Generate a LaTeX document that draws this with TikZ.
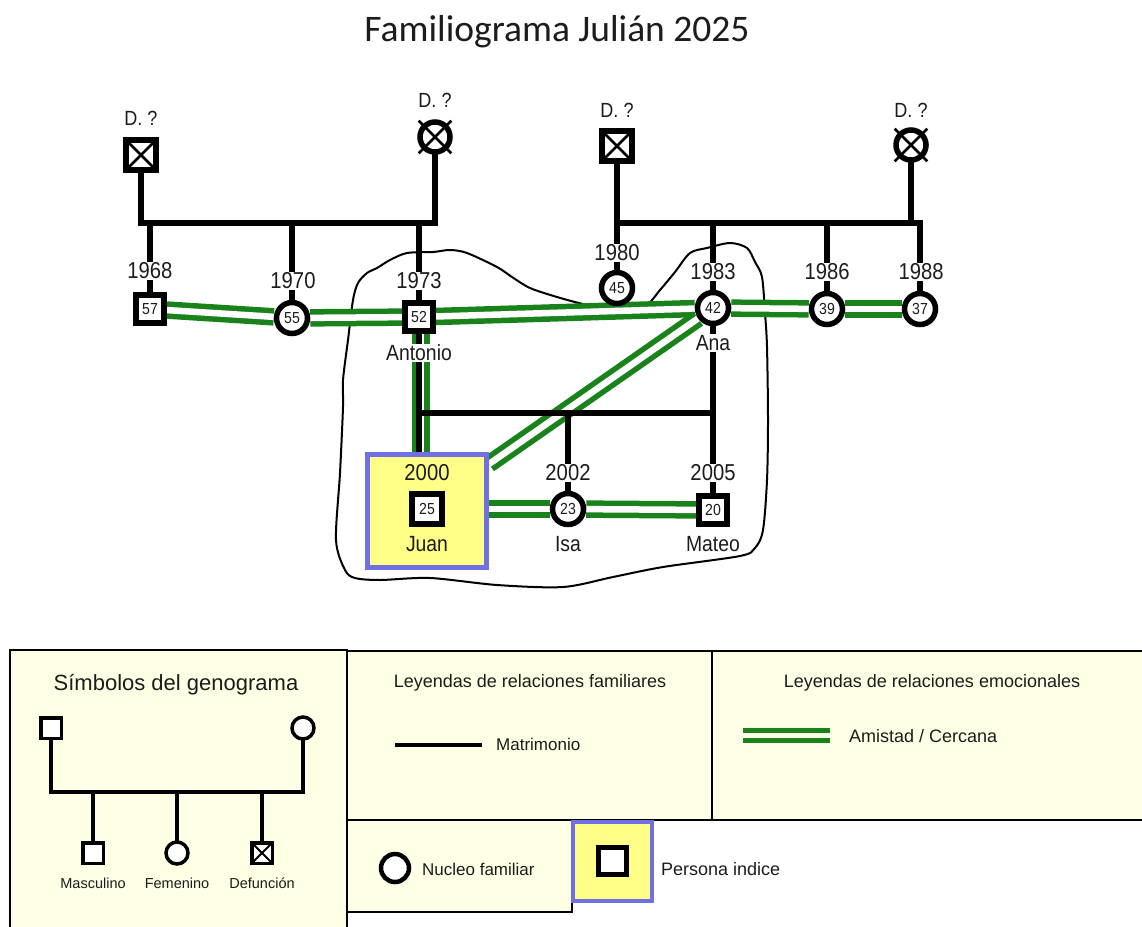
\documentclass[tikz,border=0pt]{standalone}
\usepackage{fontspec}
\setmainfont{Liberation Sans}
\newfontfamily\dfont[FakeStretch=0.88]{Liberation Sans}
\newfontfamily\titlefont{Carlito}
\usetikzlibrary{calc}
\definecolor{grn}{RGB}{26,130,26}
\definecolor{legy}{RGB}{255,255,229}
\definecolor{juany}{RGB}{255,255,136}
\definecolor{juanb}{RGB}{112,112,228}
\definecolor{txt}{RGB}{28,28,28}
\pgfdeclarelayer{bgl}
\pgfdeclarelayer{cloudl}
\pgfdeclarelayer{greenl}
\pgfdeclarelayer{blackl}
\pgfsetlayers{bgl,cloudl,greenl,blackl,main}
\begin{document}
\begin{tikzpicture}[x=1pt,y=-1pt,
  person/.style={draw,line width=5.5pt,fill=white,inner sep=0pt,text=txt,font=\dfont\fontsize{16}{16}\selectfont},
  male/.style={person,rectangle,minimum size=28pt},
  female/.style={person,circle,minimum size=31pt},
  xsq/.style={path picture={\draw[line width=#1] (path picture bounding box.north west) -- (path picture bounding box.south east) (path picture bounding box.north east) -- (path picture bounding box.south west);}},
  xsq/.default=2.5pt,
  dmale/.style={male,minimum size=30pt,xsq},
  dfemale/.style={female,minimum size=30pt},
  xline/.style={line width=2.5pt},
  gline/.style={line width=6pt,line cap=rect},
  amistad/.style={draw=grn,line width=5.5pt,double=white,double distance=6.5pt},
  yr/.style={fill=white,inner sep=1pt,text=txt,font=\dfont\fontsize{23}{23}\selectfont},
  nm/.style={fill=white,inner sep=1pt,text=txt,font=\dfont\fontsize{22}{22}\selectfont},
  dd/.style={inner sep=0pt,text=txt,font=\dfont\fontsize{20.5}{20.5}\selectfont},
  nucleo/.style={line width=2pt,line join=round},
  legbox/.style={draw,fill=legy,line width=1.6pt},
  ltxt/.style={inner sep=0pt,text=txt,font=\fontsize{18}{18}\selectfont},
  lsmall/.style={inner sep=0pt,text=txt,font=\fontsize{14.5}{15}\selectfont},
  lperson/.style={draw,line width=3.5pt,fill=white,inner sep=0pt},
  lmale/.style={lperson,rectangle,minimum size=20.5pt},
  lfemale/.style={lperson,circle,minimum size=22pt},
  lline/.style={line width=3.5pt,line cap=rect}
]
\useasboundingbox (0,0) rectangle (1142,926);
\begin{pgfonlayer}{bgl}
\fill[white] (0,0) rectangle (1142,926);
\end{pgfonlayer}

% title
\node[text=txt,font=\titlefont\fontsize{37.5}{37.5}\selectfont,anchor=base] (title) at (557,41) {Familiograma Julián 2025};

% persons
\node[dmale] (f1) at (141,155) {};
\node[dfemale] (m1) at (435,137) {};
\node[dmale] (f2) at (617,146) {};
\node[dfemale] (m2) at (911,145) {};
\node[male] (c57) at (150,309) {57};
\node[female] (c55) at (292,318) {55};
\node[male] (c52) at (419,317) {52};
\node[female] (c45) at (617,288) {45};
\node[female] (c42) at (713,308) {42};
\node[female] (c39) at (827,309) {39};
\node[female] (c37) at (920,309) {37};
\node[draw=juanb,fill=juany,line width=5pt,minimum width=119pt,minimum height=113pt] (jbox) at (427,511) {};
\node[male,minimum size=30pt] (c25) at (427,509) {25};
\node[female] (c23) at (568,509) {23};
\node[male] (c20) at (713,510) {20};

% crosses of deceased women
\draw[xline] (m1.center) ++(45:23) -- ++(225:46);
\draw[xline] (m1.center) ++(135:23) -- ++(-45:46);
\draw[xline] (m2.center) ++(45:23) -- ++(225:46);
\draw[xline] (m2.center) ++(135:23) -- ++(-45:46);

% texts
\node[dd] (d1) at (141,118) {D. ?};
\node[dd] (d2) at (435,100) {D. ?};
\node[dd] (d3) at (617,110) {D. ?};
\node[dd] (d4) at (911,110) {D. ?};
\node[yr] (y68) at (150,271) {1968};
\node[yr] (y70) at (293,281) {1970};
\node[yr] (y73) at (419,281) {1973};
\node[yr] (y80) at (617,253) {1980};
\node[yr] (y83) at (713,272) {1983};
\node[yr] (y86) at (827,272) {1986};
\node[yr] (y88) at (921,272) {1988};
\node[yr,fill=none] (y00) at (427,473) {2000};
\node[yr] (y02) at (568,473) {2002};
\node[yr] (y05) at (713,473) {2005};
\node[nm] (nant) at (419,353) {Antonio};
\node[nm] (nana) at (713,343) {Ana};
\node[nm,fill=none] (njuan) at (427,544) {Juan};
\node[nm] (nisa) at (568,544) {Isa};
\node[nm] (nmat) at (713,544) {Mateo};

% family nucleus outline
\begin{pgfonlayer}{cloudl}
\draw[nucleo] plot[smooth cycle,tension=0.5] coordinates {
 (336,540) (340,473) (343,407) (343,380) (348,340) (353,300) (358,283) (367,273) (377,268)
 (390,260) (407,253) (433,252) (450,250) (467,253) (497,267) (512,277) (530,288)
 (557,297) (587,305) (617,310) (645,306) (660,290) (675,272) (690,253) (707,248)
 (730,243) (747,248) (755,262) (762,277) (765,313) (767,347) (768,420) (767,480)
 (763,530) (755,548) (740,556) (663,567) (613,577) (563,587) (497,585) (430,578)
 (380,580) (355,578) (345,570)};
\end{pgfonlayer}

% emotional relations
\begin{pgfonlayer}{greenl}
\draw[amistad] (c57) -- (c55);
\draw[amistad] (c55) -- (c52);
\draw[amistad] (c52) -- (c42);
\draw[amistad] (c42) -- (c39);
\draw[amistad] (c39) -- (c37);
\draw[amistad] ([xshift=2pt]c52.south) -- ([xshift=2pt]c52.south |- jbox.north);
\draw[amistad] (c42) -- ([yshift=-12pt]jbox.north east);
\draw[amistad] (jbox.east |- c23) -- (c23);
\draw[amistad] (c23) -- (c20);
\end{pgfonlayer}

% family relations
\begin{pgfonlayer}{blackl}
\coordinate (mar1) at (288,223);
\draw[gline] (f1) |- (mar1) -| (m1);
\draw[gline] (mar1 -| c57) -- (c57);
\draw[gline] (mar1 -| c55) -- (c55);
\draw[gline] (mar1 -| c52) -- (c52);
\coordinate (mar2) at (770,223);
\draw[gline] (f2) -- (c45);
\draw[gline] (f2 |- mar2) -- (mar2) -| (c37);
\draw[gline] (m2) -- (m2 |- mar2);
\draw[gline] (mar2 -| c42) -- (c42);
\draw[gline] (mar2 -| c39) -- (c39);
\coordinate (mar3) at (568,413);
\draw[gline] (c52) |- (mar3) -| (c42);
\draw[gline] (mar3 -| c52) -- (c52 |- jbox.north);
\draw[gline] (mar3 -| c23) -- (c23);
\draw[gline] (mar3 -| c20) -- (c20);
\end{pgfonlayer}

% legend boxes
\draw[legbox] (10,650) rectangle (347,945);
\draw[legbox] (347,651) rectangle (712,820);
\draw[legbox] (712,651) rectangle (1160,820);
\draw[legbox] (347,820) rectangle (572,912);
\draw[draw=juanb,fill=juany,line width=4pt] (573,822) rectangle (652,901);

% legend: symbols
\node[ltxt,font=\fontsize{22}{22}\selectfont,anchor=base] (lt1) at (176,690) {Símbolos del genograma};
\node[lmale] (lf) at (51,728) {};
\node[lfemale] (lm) at (303,728) {};
\node[lmale] (lc1) at (93,853) {};
\node[lfemale] (lc2) at (177,853) {};
\node[lmale,xsq=1.8pt] (lc3) at (262,853) {};
\coordinate (lmar) at (177,792);
\draw[lline] (lf) |- (lmar) -| (lm);
\draw[lline] (lmar -| lc1) -- (lc1);
\draw[lline] (lmar) -- (lc2);
\draw[lline] (lmar -| lc3) -- (lc3);
\node[lsmall,anchor=base] (ll1) at (93,888) {Masculino};
\node[lsmall,anchor=base] (ll2) at (177,888) {Femenino};
\node[lsmall,anchor=base] (ll3) at (262,888) {Defunción};

% legend: family relations
\node[ltxt,anchor=base] (lt2) at (530,687) {Leyendas de relaciones familiares};
\coordinate (lma) at (395,745);
\coordinate (lmb) at (482,745);
\draw[line width=4.5pt] (lma) -- (lmb);
\node[ltxt,font=\fontsize{17}{17}\selectfont,anchor=base west] (lmt) at (496,750) {Matrimonio};

% legend: emotional relations
\node[ltxt,anchor=base] (lt3) at (932,687) {Leyendas de relaciones emocionales};
\coordinate (laa) at (743,735.5);
\coordinate (lab) at (830,735.5);
\draw[draw=grn,line width=5pt,double=legy,double distance=4.5pt] (laa) -- (lab);
\node[ltxt,anchor=base west] (lat) at (849,742) {Amistad / Cercana};

% legend: nucleus and index person
\node[draw,circle,line width=4.5pt,minimum size=28pt,fill=white,inner sep=0pt] (ln) at (395,868) {};
\node[ltxt,font=\fontsize{17}{17}\selectfont,anchor=base west] (lnt) at (422,875) {Nucleo familiar};
\node[draw,line width=5pt,fill=white,minimum width=28pt,minimum height=27pt,inner sep=0pt] (lp) at (612.5,861) {};
\node[ltxt,anchor=base west] (lpt) at (661,875) {Persona indice};
\end{tikzpicture}
\end{document}
